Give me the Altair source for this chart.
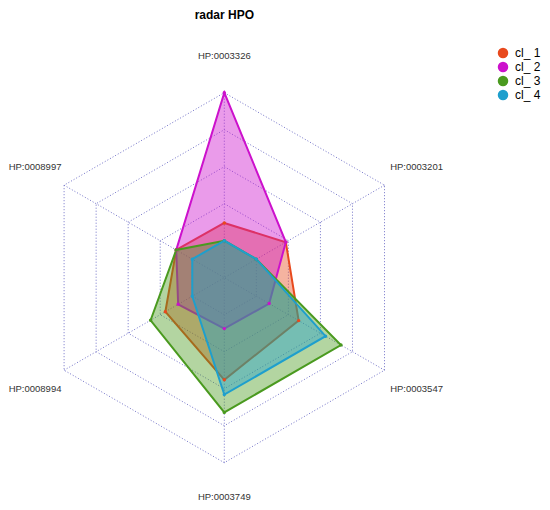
import altair as alt
import pandas as pd

# ---- data ----
axis_labels = ["HP:0003326", "HP:0003201", "HP:0003547", "HP:0003749", "HP:0008994", "HP:0008997"]
series_names = ["cl_ 1", "cl_ 2", "cl_ 3", "cl_ 4"]
cl_1 = [0.12, 0.23, 0.33, 0.44, 0.21, 0.125]
cl_2 = [1.0, 0.23, 0.10, 0.094, 0.11, 0.125]
cl_3 = [0.0, 0.0, 0.66, 0.66, 0.325, 0.125]
cl_4 = [0.0, 0.0, 0.54, 0.54, 0.0, 0.0]
colors = ["#E8491D", "#CC11CC", "#4A9A1F", "#1E9FCD"]
grid_levels = [0.2, 0.4, 0.6, 0.8, 1.0]
label_radius = 1.2

FONT = "Liberation Sans"
GRID = "#7272C8"

rows = []
for name, vals in zip(series_names, [cl_1, cl_2, cl_3, cl_4]):
    for i, v in enumerate(vals):
        rows.append({"series": name, "idx": i, "value": v})
sdf = pd.DataFrame(rows)

ring_df = pd.DataFrame([{"level": l, "idx": i} for l in grid_levels for i in range(len(axis_labels))])
spoke_df = pd.DataFrame({"idx": list(range(len(axis_labels))), "label": axis_labels})

W, H = 534, 464
cx, cy, R = 216.3, 239.7, 185.0
xs = alt.Scale(domain=[-cx / R, (W - cx) / R], nice=False, zero=False)
ys = alt.Scale(domain=[-(H - cy) / R, cy / R], nice=False, zero=False)

ANG = "datum.idx * PI / 3"

rings = alt.Chart(ring_df).transform_calculate(
    x=f"datum.level * sin({ANG})", y=f"datum.level * cos({ANG})"
).mark_line(interpolate="linear-closed", color=GRID, strokeWidth=1, strokeDash=[1, 2]).encode(
    x=alt.X("x:Q", scale=xs, axis=None),
    y=alt.Y("y:Q", scale=ys, axis=None),
    detail="level:N",
    order="idx:Q",
)

spokes = alt.Chart(spoke_df).transform_calculate(
    x=f"sin({ANG})", y=f"cos({ANG})", x0="0", y0="0"
).mark_rule(color=GRID, strokeWidth=1, strokeDash=[1, 2]).encode(
    x=alt.X("x:Q", scale=xs, axis=None),
    y=alt.Y("y:Q", scale=ys, axis=None),
    x2="x0:Q",
    y2="y0:Q",
)


def label_layer(cond, dx=0, dy=0):
    return alt.Chart(spoke_df).transform_filter(cond).transform_calculate(
        x=f"{label_radius} * sin({ANG})", y=f"{label_radius} * cos({ANG})"
    ).mark_text(font=FONT, fontSize=9.5, color="#333333", align="center",
                baseline="middle", dx=dx, dy=dy).encode(
        x=alt.X("x:Q", scale=xs, axis=None),
        y=alt.Y("y:Q", scale=ys, axis=None),
        text="label:N",
    )


labels_main = label_layer("datum.idx <= 2")
labels_bottom = label_layer("datum.idx == 3", dy=-3)
labels_left = label_layer("datum.idx >= 4", dx=3)

polys = []
for name, col in zip(series_names, colors):
    p = alt.Chart(sdf).transform_filter(alt.datum.series == name).transform_calculate(
        r="0.2 + 0.8 * datum.value"
    ).transform_calculate(
        x=f"datum.r * sin({ANG})", y=f"datum.r * cos({ANG})"
    ).mark_line(
        interpolate="linear-closed", stroke=col, fill=col, fillOpacity=0.42, strokeWidth=2
    ).encode(
        x=alt.X("x:Q", scale=xs, axis=None),
        y=alt.Y("y:Q", scale=ys, axis=None),
        order="idx:Q",
    )
    polys.append(p)

points = alt.Chart(sdf).transform_calculate(
    r="0.2 + 0.8 * datum.value"
).transform_calculate(
    x=f"datum.r * sin({ANG})", y=f"datum.r * cos({ANG})"
).mark_point(filled=True, size=12, opacity=1).encode(
    x=alt.X("x:Q", scale=xs, axis=None),
    y=alt.Y("y:Q", scale=ys, axis=None),
    color=alt.Color(
        "series:N",
        scale=alt.Scale(domain=series_names, range=colors),
        legend=alt.Legend(
            title=None, orient="none", legendX=489, legendY=9,
            symbolType="circle", symbolSize=110, symbolOpacity=1, symbolStrokeWidth=0,
            labelFont=FONT, labelFontSize=12, labelColor="#000000", labelOffset=6,
            rowPadding=2,
        ),
    ),
)

chart = alt.layer(rings, spokes, *polys, points, labels_main, labels_bottom, labels_left).properties(
    width=W, height=H,
    title=alt.TitleParams(
        text="radar HPO", anchor="start", align="center", dx=cx, offset=16,
        font=FONT, fontSize=12, fontWeight="bold", color="#000000",
    ),
    autosize=alt.AutoSizeParams(type="none"),
    padding={"left": 0, "top": 30, "right": 0, "bottom": 0},
).configure_view(stroke=None)

chart.save("out.html", embed_options={"renderer": "svg", "actions": False})
